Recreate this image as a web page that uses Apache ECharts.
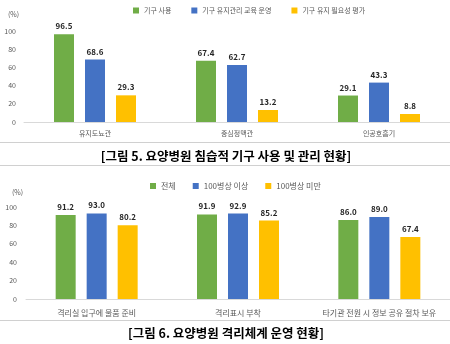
<!DOCTYPE html>
<html><head><meta charset="utf-8">
<script src="https://cdn.jsdelivr.net/npm/echarts@6/dist/echarts.min.js"></script>
<style>html,body{margin:0;padding:0;background:#fff}#c{width:450px;height:344px}</style>
</head><body><div id="c"></div>
<script>
const cats1 = ['유지도뇨관', '중심정맥관', '인공호흡기'];
const names1 = ['기구 사용', '기구 유지관리 교육 운영', '기구 유지 필요성 평가'];
const use1 = [96.5, 67.4, 29.1];
const edu1 = [68.6, 62.7, 43.3];
const eval1 = [29.3, 13.2, 8.8];

const cats2 = ['격리실 입구에 물품 준비', '격리표시 부착', '타기관 전원 시 정보 공유 절차 보유'];
const names2 = ['전체', '100병상 이상', '100병상 미만'];
const all2 = [91.2, 91.9, 86.0];
const big2 = [93.0, 92.9, 89.0];
const small2 = [80.2, 85.2, 67.4];

const yTicks = [0, 20, 40, 60, 80, 100];
const title1 = '[그림 5. 요양병원 침습적 기구 사용 및 관리 현황]';
const title2 = '[그림 6. 요양병원 격리체계 운영 현황]';

const colors = ['#70AD47', '#4472C4', '#FFC000'];
const FONT = '"Noto Sans CJK KR", "Noto Sans", sans-serif';

function bar(name, data, ci, gi, ax) {
  return {
    name: name, type: 'bar', xAxisIndex: ax, yAxisIndex: ax, data: data,
    barWidth: 20, barGap: '55%',
    itemStyle: { color: colors[ci] },
    label: { show: true, position: 'top', distance: 4, fontSize: 8, fontWeight: 'bold', color: '#262626', fontFamily: FONT,
      formatter: p => p.value.toFixed(1) }
  };
}
function yAxis(gi, margin) {
  return {
    gridIndex: gi, type: 'value', min: yTicks[0], max: yTicks[yTicks.length - 1], interval: 20,
    axisLine: { show: false }, axisTick: { show: false }, splitLine: { show: false },
    axisLabel: { fontSize: 7, color: '#595959', margin: margin, fontFamily: FONT }
  };
}
function xAxis(gi, cats, fs, margin) {
  return {
    gridIndex: gi, type: 'category', data: cats,
    axisLine: { lineStyle: { color: '#d9d9d9', width: 1 } }, axisTick: { show: false },
    axisLabel: { fontSize: fs, color: '#595959', margin: margin, fontFamily: FONT, interval: 0 }
  };
}

const chart = echarts.init(document.getElementById('c'), null, { renderer: 'canvas' });
chart.setOption({
  animation: false,
  textStyle: { fontFamily: FONT },
  legend: [
    { data: names1, left: 128, top: 2, itemWidth: 6, itemHeight: 6, itemGap: 20, icon: 'rect',
      textStyle: { fontSize: 7, color: '#595959', fontFamily: FONT } },
    { data: names2, left: 145, top: 177, itemWidth: 6, itemHeight: 6, itemGap: 17, icon: 'rect',
      textStyle: { fontSize: 8, color: '#595959', fontFamily: FONT } }
  ],
  grid: [
    { left: 24, top: 31, width: 435, height: 91 },
    { left: 26, top: 207, width: 428, height: 92 }
  ],
  xAxis: [xAxis(0, cats1, 7, 8), xAxis(1, cats2, 8, 10)],
  yAxis: [yAxis(0, 8), yAxis(1, 9)],
  series: [
    bar(names1[0], use1, 0, 0, 0), bar(names1[1], edu1, 1, 0, 0), bar(names1[2], eval1, 2, 0, 0),
    bar(names2[0], all2, 0, 1, 1), bar(names2[1], big2, 1, 1, 1), bar(names2[2], small2, 2, 1, 1)
  ],
  graphic: [
    { type: 'text', left: 8, top: 11, style: { text: '(%)', fontSize: 7, fill: '#595959', fontFamily: FONT } },
    { type: 'text', left: 12, top: 189, style: { text: '(%)', fontSize: 7, fill: '#595959', fontFamily: FONT } },
    { type: 'line', shape: { x1: 0, y1: 142.5, x2: 450, y2: 142.5 }, style: { stroke: '#d0d0d0', lineWidth: 1 } },
    { type: 'line', shape: { x1: 0, y1: 165.5, x2: 450, y2: 165.5 }, style: { stroke: '#d0d0d0', lineWidth: 1 } },
    { type: 'line', shape: { x1: 0, y1: 320.5, x2: 450, y2: 320.5 }, style: { stroke: '#d0d0d0', lineWidth: 1 } },
    { type: 'text', x: 226, y: 156, style: { text: title1, fontSize: 12.5, fontWeight: 'bold', fill: '#000', align: 'center', verticalAlign: 'middle', fontFamily: FONT } },
    { type: 'text', x: 226, y: 333, style: { text: title2, fontSize: 12.5, fontWeight: 'bold', fill: '#000', align: 'center', verticalAlign: 'middle', fontFamily: FONT } }
  ]
});
</script></body></html>
